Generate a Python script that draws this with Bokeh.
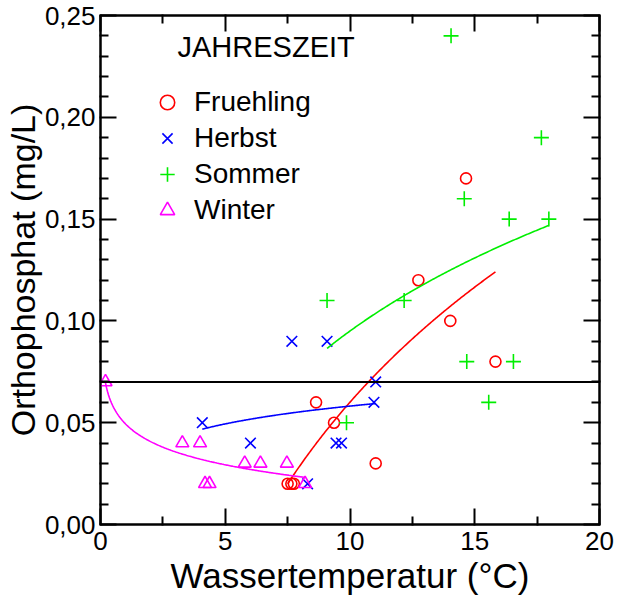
import numpy as np
from bokeh.plotting import figure
from bokeh.models import (Range1d, FixedTicker, LinearAxis, Span, Legend,
                          LegendItem, Label)
from bokeh.embed import file_html
from bokeh.resources import INLINE

# Messwerte je Jahreszeit: Wassertemperatur (°C) und Orthophosphat (mg/L)
fruehling_temp = [14.65, 12.74, 14.02, 15.83, 8.64, 9.36, 11.03, 7.50, 7.65, 7.75]
fruehling_po4 = [0.17, 0.12, 0.10, 0.08, 0.06, 0.05, 0.03, 0.02, 0.02, 0.02]

herbst_temp = [7.67, 9.08, 11.03, 10.96, 4.08, 6.01, 9.44, 9.66, 8.30]
herbst_po4 = [0.09, 0.09, 0.07, 0.06, 0.05, 0.04, 0.04, 0.04, 0.02]

sommer_temp = [14.05, 17.67, 14.58, 16.38, 17.97, 9.08, 12.17, 14.68, 16.55, 15.56, 9.86]
sommer_po4 = [0.24, 0.19, 0.16, 0.15, 0.15, 0.11, 0.11, 0.08, 0.08, 0.06, 0.05]

winter_temp = [0.20, 3.28, 3.99, 4.19, 4.37, 5.78, 6.41, 7.47, 8.20]
winter_po4 = [0.07, 0.04, 0.04, 0.02, 0.02, 0.03, 0.03, 0.03, 0.02]

grenzwert = 0.07

x_ticks = [0, 5, 10, 15, 20]
x_tick_labels = ["0", "5", "10", "15", "20"]
x_minor_ticks = [2.5, 7.5, 12.5, 17.5]
y_ticks = [0.0, 0.05, 0.10, 0.15, 0.20, 0.25]
y_tick_labels = ["0,00", "0,05", "0,10", "0,15", "0,20", "0,25"]
y_minor_ticks = [round(0.01 * i, 2) for i in range(26) if i % 5]

FONT = "Liberation Sans"

p = figure(width=620, height=601, output_backend="svg", toolbar_location=None,
           x_range=Range1d(0, 20), y_range=Range1d(0, 0.25),
           min_border_left=98, min_border_right=21, min_border_top=15,
           min_border_bottom=77, x_axis_location=None, y_axis_location=None)
p.xgrid.visible = False
p.ygrid.visible = False
p.outline_line_color = "black"
p.outline_line_width = 2
p.background_fill_color = "white"
p.border_fill_color = "white"


def style_axis(ax, ticks, minor, labels, show_labels):
    ax.ticker = FixedTicker(ticks=ticks, minor_ticks=minor)
    if show_labels:
        ax.major_label_overrides = dict(zip(ticks, labels))
    else:
        ax.major_label_overrides = {t: "" for t in ticks}
    ax.axis_line_color = "black"
    ax.axis_line_width = 2
    ax.major_tick_line_color = "black"
    ax.major_tick_line_width = 2
    ax.minor_tick_line_color = "black"
    ax.minor_tick_line_width = 2
    ax.major_tick_in = 16
    ax.major_tick_out = 1
    ax.minor_tick_in = 8
    ax.minor_tick_out = 1
    ax.major_label_text_font = FONT
    ax.major_label_text_font_size = "26px"
    ax.major_label_text_color = "black"
    ax.axis_label_text_font = FONT
    ax.axis_label_text_font_style = "normal"
    ax.axis_label_text_color = "black"


xb = LinearAxis(axis_label="Wassertemperatur (°C)")
style_axis(xb, x_ticks, x_minor_ticks, x_tick_labels, True)
xb.major_label_standoff = 6
xb.axis_label_standoff = 3
xb.axis_label_text_font_size = "35px"
p.add_layout(xb, "below")

yl = LinearAxis(axis_label="Orthophosphat (mg/L)")
style_axis(yl, y_ticks, y_minor_ticks, y_tick_labels, True)
yl.major_label_standoff = 4
yl.axis_label_standoff = 0
yl.axis_label_text_font_size = "34px"
p.add_layout(yl, "left")

xt = LinearAxis()
style_axis(xt, x_ticks, x_minor_ticks, x_tick_labels, False)
p.add_layout(xt, "above")

yr = LinearAxis()
style_axis(yr, y_ticks, y_minor_ticks, y_tick_labels, False)
p.add_layout(yr, "right")

# Grenzwertlinie
p.add_layout(Span(location=grenzwert, dimension="width", line_color="black",
                  line_width=2))

seasons = [
    ("Fruehling", fruehling_temp, fruehling_po4, "#ff0000", "circle", 11),
    ("Herbst", herbst_temp, herbst_po4, "#0000ff", "x", 15),
    ("Sommer", sommer_temp, sommer_po4, "#00ee00", "cross", 15),
    ("Winter", winter_temp, winter_po4, "#ff00ff", "triangle", 13),
]

items = []
for name, temp, po4, color, marker, size in seasons:
    t = np.asarray(temp, dtype=float)
    c = np.asarray(po4, dtype=float)
    # logarithmische Regression  po4 = a + b * ln(temp)
    b, a = np.polyfit(np.log(t), c, 1)
    tt = np.linspace(t.min(), t.max(), 200)
    p.line(tt, a + b * np.log(tt), line_color=color, line_width=1.6)
    r = p.scatter(t, c, marker=marker, size=size, fill_color=None,
                  line_color=color, line_width=1.6)
    items.append(LegendItem(label=name, renderers=[r]))

legend = Legend(items=items, location=(49, 296), orientation="vertical",
                glyph_width=36, glyph_height=36, label_standoff=9,
                spacing=0, padding=0, margin=0, border_line_color=None,
                background_fill_alpha=0, label_text_font=FONT,
                label_text_font_size="28px", label_text_color="black")
p.add_layout(legend, "center")

p.add_layout(Label(x=77, y=478, x_units="screen", y_units="screen",
                   text="JAHRESZEIT", text_font=FONT, text_font_size="29px",
                   text_baseline="alphabetic", text_align="left",
                   text_color="black"))

open("out.html", "w").write(file_html(p, INLINE))
